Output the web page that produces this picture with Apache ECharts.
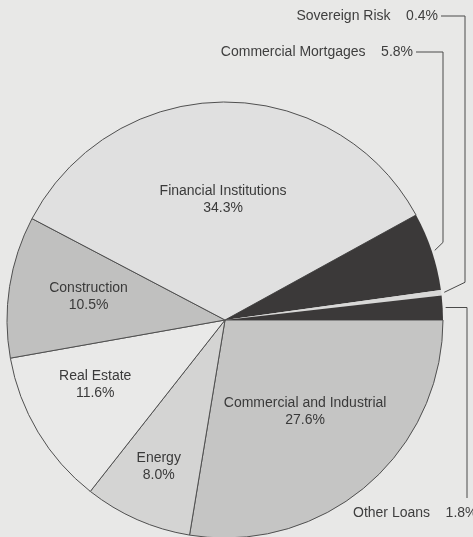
<!DOCTYPE html>
<html>
<head>
<meta charset="utf-8">
<script src="https://cdn.jsdelivr.net/npm/echarts@6/dist/echarts.min.js"></script>
<style>
html,body{margin:0;padding:0;background:#e8e8e7;}
#c{width:473px;height:537px;}
</style>
</head>
<body>
<div id="c"></div>
<script>
// ---- data ----
const categories = ['Commercial and Industrial','Energy','Real Estate','Construction','Financial Institutions','Commercial Mortgages','Sovereign Risk','Other Loans'];
const shares = [27.6, 8.0, 11.6, 10.5, 34.3, 5.8, 0.4, 1.8];

// ---- styles / layout (not data) ----
const sliceColors = ['#c5c5c4','#d4d4d3','#e9e9e8','#c0c0bf','#e0e0e0','#3b3939','#d8d8d7','#3b3939'];
const borderWidths = [1, 1, 1, 1, 1, 0, 0, 0];
const CX = 225, CY = 320, R = 218;
// inside labels: radial fraction and angle nudge (deg)
const insideLabel = {
  0: {f: 0.56, da: 0.7},
  1: {f: 0.74, da: -0.5},
  2: {f: 0.665, da: -4.5},
  3: {f: 0.635, da: -0.8},
  4: {f: 0.553, da: 0.4}
};
// outside labels with bracket leader lines
const outsideLabel = {
  5: {x: 413, y: 52, align: 'right', bx: 443, gap: 3, ddx: 16, ddy: -8},
  6: {x: 438, y: 16, align: 'right', bx: 465, gap: 3, ddx: 19, ddy: -10},
  7: {x: 353, y: 513, align: 'left', bx: 467, gap: 3, bottom: 498}
};

const total = shares.reduce((a, b) => a + b, 0);
function midAngle(i) {
  let before = 0;
  for (let k = 0; k < i; k++) before += shares[k];
  const frac = (before + shares[i] / 2) / total;
  return -frac * 360; // clockwise from 3 o'clock
}
function pt(angDeg, r) {
  const a = angDeg * Math.PI / 180;
  return [CX + r * Math.cos(a), CY - r * Math.sin(a)];
}

const data = categories.map((name, i) => {
  const out = outsideLabel[i];
  return {
    name: name,
    value: shares[i],
    itemStyle: {color: sliceColors[i], borderWidth: borderWidths[i]},
    label: out ? {
      formatter: p => p.name + '    ' + p.value.toFixed(1) + '%',
      fontSize: 14,
      color: '#3e3e3e'
    } : {
      formatter: p => p.name + '\n' + p.value.toFixed(1) + '%',
      fontSize: 14,
      lineHeight: 17,
      color: '#3a3a3a',
      align: 'center'
    },
    labelLine: {show: !!out, lineStyle: {color: '#4a4a4a', width: 1}}
  };
});

const chart = echarts.init(document.getElementById('c'), null, {renderer: 'canvas'});
chart.setOption({
  backgroundColor: '#e8e8e7',
  animation: false,
  series: [{
    type: 'pie',
    center: [CX, CY],
    radius: R,
    startAngle: 0,
    clockwise: true,
    avoidLabelOverlap: false,
    silent: true,
    itemStyle: {borderColor: '#505050', borderWidth: 1},
    label: {show: true, fontFamily: 'Liberation Sans, Arial, sans-serif'},
    labelLine: {show: false},
    data: data,
    labelLayout: function (p) {
      const i = p.dataIndex;
      const ang = midAngle(i);
      if (insideLabel[i]) {
        const s = insideLabel[i];
        const q = pt(ang + s.da, R * s.f);
        return {x: q[0], y: q[1], align: 'center', verticalAlign: 'middle'};
      }
      const o = outsideLabel[i];
      const a = pt(ang, R + o.gap);
      let pts;
      if (o.align === 'right') {
        pts = [[o.x + 3, o.y], [o.bx, o.y], [o.bx, a[1] + o.ddy], a];
      } else {
        pts = [a, [o.bx, a[1]], [o.bx, o.bottom]];
      }
      return {x: o.x, y: o.y, align: o.align, verticalAlign: 'middle', labelLinePoints: pts};
    }
  }]
});
</script>
</body>
</html>
